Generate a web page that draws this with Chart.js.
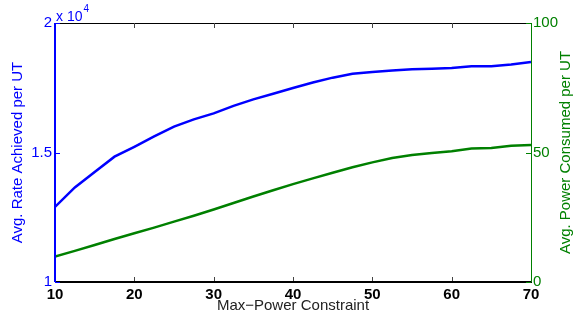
<!DOCTYPE html>
<html>
<head>
<meta charset="utf-8">
<script src="https://cdn.jsdelivr.net/npm/chart.js@4"></script>
<style>
  html, body { margin: 0; padding: 0; background: #fff; }
  #wrap { width: 573px; height: 322px; }
</style>
</head>
<body>
<div id="wrap"><canvas id="chart" width="573" height="322"></canvas></div>
<script>
// values
const maxPower = [10, 12.5, 15, 17.5, 20, 22.5, 25, 27.5, 30, 32.5, 35, 37.5, 40,
  42.5, 45, 47.5, 50, 52.5, 55, 57.5, 60, 62.5, 65, 67.5, 70];
const avgRate = [12900, 13650, 14250, 14840, 15220, 15620, 16000, 16280, 16510, 16800,
  17050, 17270, 17490, 17700, 17890, 18040, 18110, 18170, 18210, 18230, 18260, 18330,
  18330, 18400, 18490];
const avgPower = [9.8, 12.0, 14.3, 16.6, 18.8, 21.0, 23.3, 25.6, 28.0, 30.5, 33.0, 35.4,
  37.8, 40.0, 42.2, 44.3, 46.2, 47.9, 49.0, 49.8, 50.5, 51.5, 51.7, 52.6, 52.9];

const BLUE = '#0000ff';
const GREEN = '#008000';
const FONT = '"Liberation Sans", Arial, sans-serif';

const toPoints = (ys) => ys.map((v, i) => ({ x: maxPower[i], y: v }));

// matlab-style box, inward ticks, exponent and right-hand label
const frame = {
  id: 'frame',
  afterDraw(chart) {
    const { ctx, chartArea: a, scales: { x, y, y1 } } = chart;
    const tl = 5;
    ctx.save();
    // top + bottom
    ctx.strokeStyle = '#000';
    ctx.lineWidth = 1;
    ctx.beginPath();
    ctx.moveTo(a.left, a.top + 0.5); ctx.lineTo(a.right, a.top + 0.5);
    ctx.stroke();
    x.ticks.forEach((t) => {
      const px = Math.round(x.getPixelForValue(t.value)) + 0.5;
      ctx.strokeStyle = '#444';
      ctx.beginPath();
      ctx.moveTo(px, a.top); ctx.lineTo(px, a.top + tl);
      ctx.moveTo(px, a.bottom); ctx.lineTo(px, a.bottom - tl);
      ctx.stroke();
    });
    ctx.strokeStyle = '#000';
    ctx.lineWidth = 2;
    ctx.beginPath();
    ctx.moveTo(a.left, a.bottom); ctx.lineTo(a.right + 1, a.bottom);
    ctx.stroke();

    // left spine (blue)
    ctx.strokeStyle = BLUE;
    ctx.lineWidth = 2;
    ctx.beginPath();
    ctx.moveTo(a.left, a.top); ctx.lineTo(a.left, a.bottom);
    ctx.stroke();
    ctx.lineWidth = 1;
    y.ticks.forEach((t) => {
      const py = Math.round(y.getPixelForValue(t.value)) + 0.5;
      ctx.beginPath();
      ctx.moveTo(a.left, py); ctx.lineTo(a.left + tl, py);
      ctx.stroke();
    });

    // right spine (green)
    ctx.strokeStyle = GREEN;
    ctx.lineWidth = 1;
    ctx.beginPath();
    ctx.moveTo(a.right + 0.5, a.top); ctx.lineTo(a.right + 0.5, a.bottom);
    ctx.stroke();
    y1.ticks.forEach((t) => {
      const py = Math.round(y1.getPixelForValue(t.value)) + 0.5;
      ctx.beginPath();
      ctx.moveTo(a.right, py); ctx.lineTo(a.right - tl, py);
      ctx.stroke();
    });

    // x 10^4
    ctx.fillStyle = BLUE;
    ctx.textBaseline = 'alphabetic';
    ctx.textAlign = 'left';
    ctx.font = '14px ' + FONT;
    ctx.fillText('x 10', a.left + 1, 21);
    const w = ctx.measureText('x 10').width;
    ctx.font = '10px ' + FONT;
    ctx.fillText('4', a.left + 2 + w, 12);

    // right axis title, reads bottom-to-top
    ctx.fillStyle = GREEN;
    ctx.font = '15px ' + FONT;
    ctx.textAlign = 'center';
    ctx.textBaseline = 'middle';
    ctx.translate(566, (a.top + a.bottom) / 2);
    ctx.rotate(-Math.PI / 2);
    ctx.fillText('Avg. Power Consumed per UT', 0, 0);
    ctx.restore();
  }
};

new Chart(document.getElementById('chart'), {
  type: 'line',
  data: {
    datasets: [
      {
        label: 'Avg. Rate',
        data: toPoints(avgRate),
        yAxisID: 'y',
        borderColor: BLUE,
        borderWidth: 2.5,
        pointRadius: 0,
        tension: 0,
      },
      {
        label: 'Avg. Power',
        data: toPoints(avgPower),
        yAxisID: 'y1',
        borderColor: GREEN,
        borderWidth: 2.5,
        pointRadius: 0,
        tension: 0,
      },
    ],
  },
  options: {
    responsive: false,
    animation: false,
    layout: { padding: { top: 23, left: 0, right: 0, bottom: 0 } },
    plugins: { legend: { display: false }, tooltip: { enabled: false } },
    scales: {
      x: {
        type: 'linear',
        min: 10,
        max: 70,
        grid: { display: false, drawTicks: false },
        border: { display: false },
        ticks: {
          stepSize: 10,
          autoSkip: false,
          maxRotation: 0,
          padding: 4,
          color: '#000',
          font: { family: FONT, size: 15, weight: 'bold' },
        },
        title: {
          display: true,
          text: 'Max\u2212Power Constraint',
          color: '#222',
          padding: { top: 0, bottom: 7 },
          font: { family: FONT, size: 15 },
        },
        afterFit: (s) => { s.height = 40; },
      },
      y: {
        position: 'left',
        min: 10000,
        max: 20000,
        grid: { display: false, drawTicks: false },
        border: { display: false },
        ticks: {
          stepSize: 5000,
          padding: 3,
          color: BLUE,
          font: { family: FONT, size: 15 },
          callback: (v) => String(v / 10000),
        },
        title: {
          display: true,
          text: 'Avg. Rate Achieved per UT',
          color: BLUE,
          padding: { top: 9, bottom: 0 },
          font: { family: FONT, size: 15 },
        },
        afterFit: (s) => { s.width = 55; },
      },
      y1: {
        position: 'right',
        min: 0,
        max: 100,
        grid: { display: false, drawTicks: false },
        border: { display: false },
        ticks: {
          stepSize: 50,
          padding: 2,
          color: GREEN,
          font: { family: FONT, size: 15 },
        },
        afterFit: (s) => { s.width = 42; },
      },
    },
  },
  plugins: [frame],
});
</script>
</body>
</html>
